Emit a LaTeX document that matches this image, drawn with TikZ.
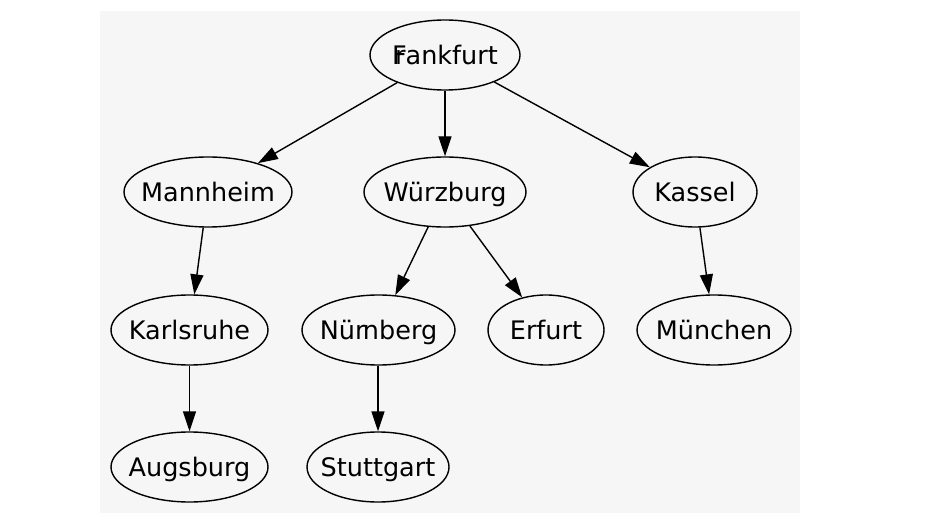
\documentclass[tikz,border=0pt]{standalone}
\usepackage{fontspec}
\setmainfont{DejaVu Sans}
\usetikzlibrary{shapes.geometric,arrows.meta}
\definecolor{bgcol}{RGB}{246,246,246}
\tikzset{
  city/.style={draw=black, line width=1.4pt, ellipse, inner xsep=-60pt, inner ysep=0pt,
    minimum height=70pt, text height=18.6pt, text depth=0pt,
    font=\fontsize{25.5}{30}\selectfont},
  edge/.style={draw=black, line width=1.4pt, -{Triangle[length=20pt,width=13pt]}}
}
\begin{document}
\begin{tikzpicture}[x=1pt,y=-1pt]
\useasboundingbox (0,0) rectangle (933,526);
\fill[bgcol] (100,11) rectangle (800,513);
\node[city, minimum width=150pt] (fr) at (445,55) {F\kern-0.455em rankfurt};
\node[city, minimum width=168pt] (ma) at (208,192) {Mannheim};
\node[city, minimum width=162pt] (wu) at (445,192) {Würzburg};
\node[city, minimum width=124pt] (ka) at (695,192) {Kassel};
\node[city, minimum width=157pt] (kr) at (189.5,330) {Karlsruhe};
\node[city, minimum width=153pt] (nu) at (378.5,330) {Nür\kern-0.1em nberg};
\node[city, minimum width=116pt] (er) at (546,330) {Erfurt};
\node[city, minimum width=154pt] (mu) at (714,330) {München};
\node[city, minimum width=157pt] (au) at (189.5,467) {Augsburg};
\node[city, minimum width=142pt] (st) at (378,467) {Stuttgart};
\draw[edge] (fr) -- (ma);
\draw[edge] (fr) -- (wu);
\draw[edge] (fr) -- (ka);
\draw[edge] (ma) -- (kr);
\draw[edge] (wu) -- (nu);
\draw[edge] (wu) -- (er);
\draw[edge] (ka) -- (mu);
\draw[edge] (kr) -- (au);
\draw[edge] (nu.south -| st) -- (st);
\end{tikzpicture}
\end{document}
